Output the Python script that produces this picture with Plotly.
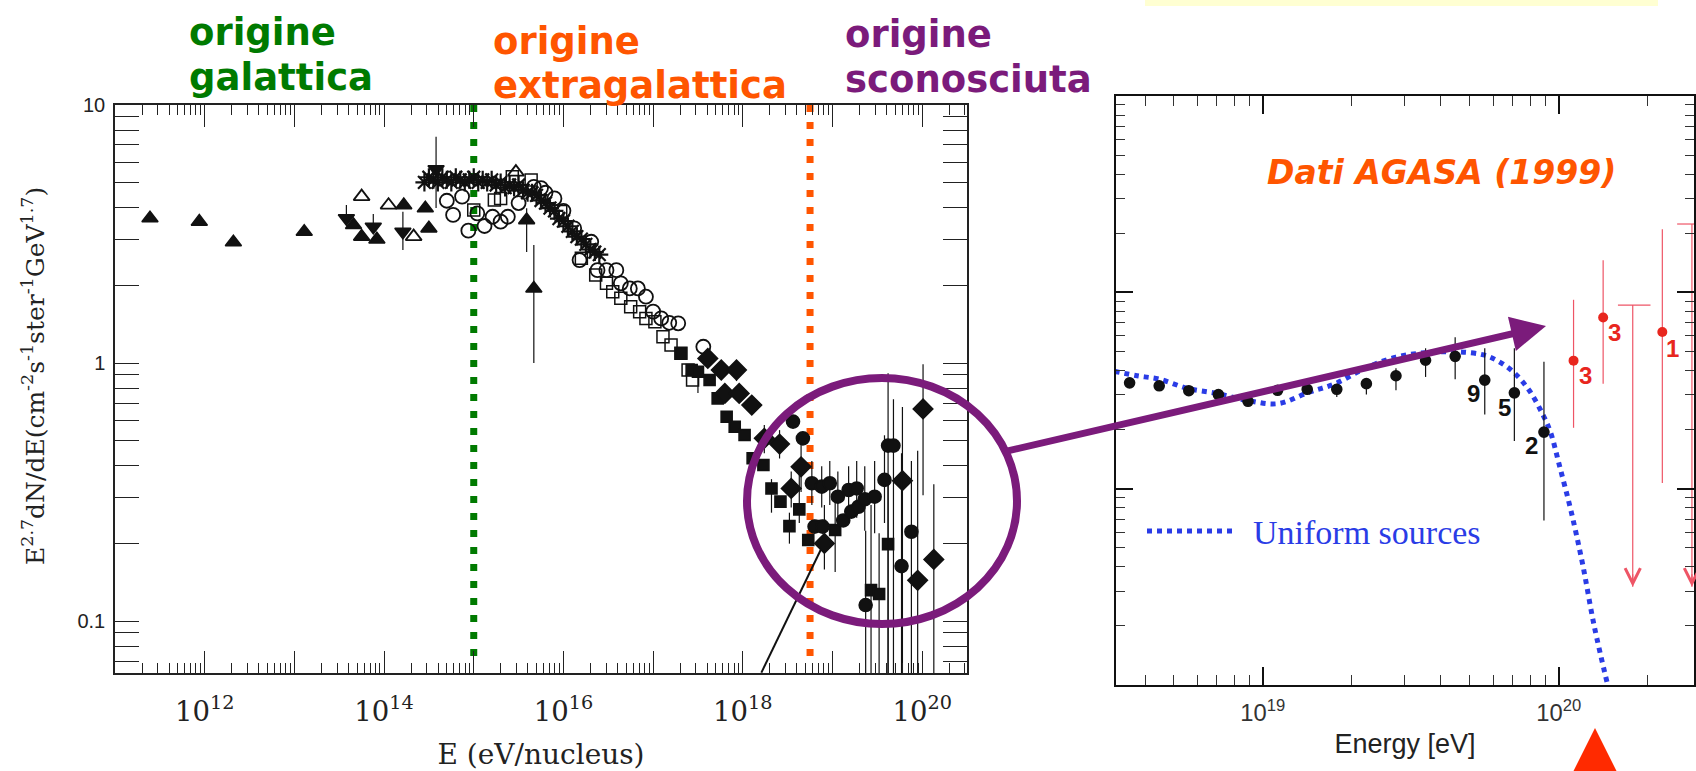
import plotly.graph_objects as go

W, H = 1696, 771

# ---------------- LEFT PANEL DATA (log10 E [eV], log10 E^2.7 dN/dE) ----------------
tri_up_lx = [11.39, 11.94, 12.32, 13.11, 13.66, 13.75, 13.92, 14.22, 14.46, 14.50, 15.59, 15.67]
tri_up_ly = [0.561, 0.548, 0.468, 0.509, 0.535, 0.490, 0.479, 0.612, 0.600, 0.522, 0.554, 0.289]
tri_up_lo = [None] * 10 + [0.43, 0.0]
tri_up_hi = [None] * 10 + [0.60, 0.457]

tri_open_lx = [13.75, 14.05, 14.33, 15.47]
tri_open_ly = [0.645, 0.612, 0.490, 0.740]

tri_dn_lx = [13.58, 13.88, 14.21, 14.58]
tri_dn_ly = [0.561, 0.528, 0.509, 0.751]
tri_dn_lo = [None, None, 0.438, 0.601]
tri_dn_hi = [0.612, 0.578, 0.586, 0.877]

star_lx = [14.45, 14.50, 14.55, 14.60, 14.65, 14.70, 14.75, 14.80, 14.85, 14.90, 14.95, 15.00,
           15.05, 15.10, 15.15, 15.20, 15.25, 15.30, 15.35, 15.40, 15.45, 15.50, 15.55, 15.60,
           15.65, 15.70, 15.75, 15.80, 15.85, 15.90, 15.95, 16.00, 16.05, 16.10, 16.15, 16.20,
           16.25, 16.30, 16.35, 16.40]
star_ly = [0.70, 0.72, 0.71, 0.70, 0.72, 0.71, 0.70, 0.72, 0.71, 0.70, 0.71, 0.72,
           0.70, 0.71, 0.70, 0.71, 0.69, 0.70, 0.68, 0.69, 0.68, 0.69, 0.67, 0.66,
           0.66, 0.65, 0.63, 0.62, 0.60, 0.59, 0.56, 0.55, 0.53, 0.51, 0.49, 0.48,
           0.46, 0.44, 0.43, 0.42]

circ_open_lx = [14.70, 14.77, 14.87, 14.94, 15.04, 15.12, 15.21, 15.30, 15.38, 15.50, 15.67, 15.75,
                15.80, 15.90, 16.00, 16.12, 16.18, 16.31, 16.38, 16.48, 16.59, 16.64, 16.74, 16.83,
                16.92, 17.00, 17.09, 17.18, 17.28, 17.56]
circ_open_ly = [0.629, 0.574, 0.645, 0.513, 0.580, 0.531, 0.567, 0.548, 0.567, 0.620, 0.683, 0.678,
                0.660, 0.638, 0.590, 0.522, 0.399, 0.470, 0.360, 0.360, 0.360, 0.309, 0.289, 0.289,
                0.257, 0.199, 0.173, 0.156, 0.154, 0.063]

sq_open_lx = [15.00, 15.23, 15.30, 15.43, 15.64, 15.97, 16.20, 16.36, 16.48, 16.55, 16.64, 16.75,
              16.85, 16.92, 17.02, 17.11, 17.20, 17.31, 17.39, 17.44]
sq_open_ly = [0.593, 0.632, 0.638, 0.722, 0.709, 0.587, 0.406, 0.341, 0.309, 0.276, 0.251, 0.218,
              0.199, 0.173, 0.160, 0.102, 0.070, 0.038, -0.027, -0.066]

sq_lx = [17.31, 17.43, 17.50, 17.63, 17.72, 17.82, 17.91, 18.02, 18.11, 18.23, 18.32, 18.42,
         18.52, 18.63, 18.73, 18.86, 19.03, 19.43, 19.52, 19.62]
sq_ly = [0.038, -0.027, -0.034, -0.066, -0.137, -0.208, -0.247, -0.279, -0.369, -0.395, -0.486, -0.537,
         -0.632, -0.567, -0.686, -0.632, -0.647, -0.880, -0.895, -0.702]
sq_lo = [None, None, -0.116, None, None, None, None, None, None, None, -0.58, None,
         -0.70, -0.62, None, None, -0.81, -1.35, -1.35, -1.35]
sq_hi = [None, None, None, None, None, None, None, None, None, None, -0.45, None,
         -0.58, -0.40, None, None, -0.53, -0.55, -0.66, -0.45]

dia_lx = [17.61, 17.76, 17.93, 17.80, 17.96, 18.10, 18.24, 18.41, 18.54, 18.65, 18.91, 19.78,
          19.95, 20.01, 20.13]
dia_ly = [0.018, -0.027, -0.027, -0.118, -0.118, -0.163, -0.292, -0.314, -0.486, -0.402, -0.699, -0.456,
          -0.842, -0.178, -0.761]
dia_lo = [None, None, -0.07, None, None, None, -0.35, -0.37, -0.56, -0.50, -0.80, -1.35,
          -1.35, -0.512, -1.35]
dia_hi = [None, None, 0.01, None, None, None, -0.24, -0.26, -0.42, -0.30, -0.55, -0.17,
          -0.34, -0.005, -0.47]

circ_lx = [18.56, 18.67, 18.77, 18.80, 18.88, 18.89, 18.97, 19.06, 19.12, 19.18, 19.21, 19.27,
           19.29, 19.36, 19.37, 19.47, 19.58, 19.62, 19.68, 19.77, 19.88]
circ_ly = [-0.227, -0.292, -0.466, -0.634, -0.479, -0.634, -0.466, -0.518, -0.610, -0.492, -0.576, -0.486,
           -0.557, -0.528, -0.938, -0.518, -0.453, -0.320, -0.320, -0.787, -0.654]
circ_lo = [None, None, -0.55, None, -0.56, None, -0.55, -0.62, None, -0.60, None, -0.60,
           None, -0.65, -1.35, -0.66, -0.62, -1.35, -1.35, -1.35, -1.35]
circ_hi = [None, None, -0.38, None, -0.40, None, -0.38, -0.42, None, -0.40, None, -0.38,
           None, -0.40, -0.65, -0.38, -0.28, -0.04, -0.14, -0.35, -0.38]

model_lx = [18.207, 18.895]
model_ly = [-1.20, -0.705]

galactic_lx = 15.0
extragal_lx = 18.75
vline_ly = [1.0, -1.159]

# ---------------- RIGHT PANEL DATA (AGASA 1999) ----------------
agasa_lx = [18.55, 18.65, 18.75, 18.85, 18.95, 19.05, 19.15, 19.25, 19.35, 19.45, 19.55, 19.65,
            19.75, 19.85, 19.95]
agasa_ly = [1.539, 1.524, 1.499, 1.479, 1.445, 1.501, 1.506, 1.506, 1.535, 1.575, 1.654, 1.674,
            1.553, 1.488, 1.288]
agasa_lo = [1.520, 1.505, 1.480, 1.460, 1.425, 1.480, 1.480, 1.467, 1.479, 1.501, 1.569, 1.557,
            1.378, 1.243, 0.838]
agasa_hi = [1.555, 1.540, 1.515, 1.495, 1.460, 1.520, 1.525, 1.535, 1.557, 1.613, 1.715, 1.771,
            1.715, 1.715, 1.647]

red_lx = [20.05, 20.15, 20.35]
red_ly = [1.652, 1.872, 1.798]
red_lo = [1.310, 1.535, 1.029]
red_hi = [1.962, 2.164, 2.321]

ul_lx = [20.25, 20.45]
ul_top = [1.935, 2.348]
ul_tip = [0.501, 0.501]
ul_bin_lo = [20.20, 20.40]
ul_bin_hi = [20.31, 20.50]

uni_lx = [18.498, 18.575, 18.652, 18.743, 18.846, 18.949, 19.051, 19.154, 19.245, 19.347, 19.450, 19.553,
          19.656, 19.746, 19.798, 19.849, 19.900, 19.946, 19.972, 20.004, 20.042, 20.081, 20.120, 20.165]
uni_ly = [1.598, 1.575, 1.557, 1.512, 1.485, 1.449, 1.433, 1.490, 1.535, 1.614, 1.670, 1.693,
          1.697, 1.681, 1.647, 1.591, 1.501, 1.378, 1.288, 1.108, 0.883, 0.613, 0.299, 0.002]

black_counts = ["9", "5", "2"]
black_count_lx = [19.712, 19.817, 19.907]
black_count_ly = [1.485, 1.411, 1.220]
red_counts = ["3", "3", "1"]
red_count_lx = [20.090, 20.190, 20.384]
red_count_ly = [1.575, 1.793, 1.715]


def p10(v):
    return [10 ** a for a in v]


def errs(ly, lo, hi):
    plus, minus = [], []
    for y, l, h in zip(ly, lo, hi):
        plus.append(10 ** h - 10 ** y if h is not None else 0)
        minus.append(10 ** y - 10 ** l if l is not None else 0)
    return plus, minus


fig = go.Figure()
BLK = "#111111"


def add_pts(lx, ly, symbol, size, lo=None, hi=None, lw=1.6, name="", xa="x", ya="y", color=BLK):
    kw = {}
    if lo is not None:
        plus, minus = errs(ly, lo, hi)
        kw["error_y"] = dict(type="data", symmetric=False, array=plus, arrayminus=minus,
                             color=color, thickness=1.2, width=0)
    fig.add_trace(go.Scatter(x=p10(lx), y=p10(ly), mode="markers", name=name, xaxis=xa, yaxis=ya,
                             marker=dict(symbol=symbol, size=size, color=color,
                                         line=dict(color=color, width=lw)),
                             showlegend=False, **kw))


# dotted vertical guide lines
fig.add_trace(go.Scatter(x=[10 ** galactic_lx] * 2, y=p10(vline_ly), mode="lines", showlegend=False,
                         line=dict(color="#007a00", width=7, dash="7px,10px")))
fig.add_trace(go.Scatter(x=[10 ** extragal_lx] * 2, y=p10(vline_ly), mode="lines", showlegend=False,
                         line=dict(color="#ff5500", width=7, dash="7px,10px")))
# model line
fig.add_trace(go.Scatter(x=p10(model_lx), y=p10(model_ly), mode="lines", showlegend=False,
                         line=dict(color=BLK, width=2)))

add_pts(tri_up_lx, tri_up_ly, "triangle-up", 14, tri_up_lo, tri_up_hi, name="filled triangles")
add_pts(tri_open_lx, tri_open_ly, "triangle-up-open", 14, lw=1.8, name="open triangles")
add_pts(tri_dn_lx, tri_dn_ly, "triangle-down", 14, tri_dn_lo, tri_dn_hi, name="down triangles")
add_pts(star_lx, star_ly, "asterisk-open", 15, lw=2.2, name="stars")
add_pts(circ_open_lx, circ_open_ly, "circle-open", 14, lw=1.8, name="open circles")
add_pts(sq_open_lx, sq_open_ly, "square-open", 12, lw=1.5, name="open squares")
add_pts(sq_lx, sq_ly, "square", 11, sq_lo, sq_hi, name="filled squares")
add_pts(dia_lx, dia_ly, "diamond", 15, dia_lo, dia_hi, name="diamonds")
add_pts(circ_lx, circ_ly, "circle", 13, circ_lo, circ_hi, name="filled circles")

# ---------------- right panel traces ----------------
BLUE = "#2a3ce6"
fig.add_trace(go.Scatter(x=p10(uni_lx), y=p10(uni_ly), mode="lines", name="Uniform sources",
                         xaxis="x2", yaxis="y2", showlegend=False,
                         line=dict(color=BLUE, width=5, dash="5px,5px", shape="spline")))
add_pts(agasa_lx, agasa_ly, "circle", 10, agasa_lo, agasa_hi, xa="x2", ya="y2", name="AGASA")
REDL = "#ee5566"
RED = "#e8261e"
for xl, top, tip, b0, b1 in zip(ul_lx, ul_top, ul_tip, ul_bin_lo, ul_bin_hi):
    fig.add_trace(go.Scatter(x=[10 ** xl, 10 ** xl], y=[10 ** top, 10 ** tip], mode="lines",
                             xaxis="x2", yaxis="y2", showlegend=False,
                             line=dict(color=REDL, width=1.2)))
    fig.add_trace(go.Scatter(x=[10 ** b0, 10 ** b1], y=[10 ** top, 10 ** top], mode="lines",
                             xaxis="x2", yaxis="y2", showlegend=False,
                             line=dict(color=REDL, width=1.2)))
plus, minus = errs(red_ly, red_lo, red_hi)
fig.add_trace(go.Scatter(x=p10(red_lx), y=p10(red_ly), mode="markers", xaxis="x2", yaxis="y2",
                         showlegend=False, marker=dict(color=RED, size=10),
                         error_y=dict(type="data", symmetric=False, array=plus, arrayminus=minus,
                                      color=REDL, thickness=1.2, width=0)))
# invisible trace so the label-only overlay axis is drawn
fig.add_trace(go.Scatter(x=[10 ** 11], y=[1], xaxis="x3", yaxis="y", mode="markers",
                         marker=dict(opacity=0), showlegend=False, hoverinfo="skip"))

annotations = []


def ann(text, X, Y, color, size, family, xanchor="left", angle=0):
    annotations.append(dict(text=text, x=X / W, y=1 - Y / H, xref="paper", yref="paper",
                            xanchor=xanchor, yanchor="middle", showarrow=False, textangle=angle,
                            font=dict(color=color, size=size, family=family)))


GREEN, ORANGE, PURPLE = "#007a00", "#ff5500", "#7b1b7b"
SANS_B = "DejaVu Sans"
SERIF = "DejaVu Serif"
ann("<b>origine</b>", 187, 33, GREEN, 37, SANS_B)
ann("<b>galattica</b>", 187, 78, GREEN, 37, SANS_B)
ann("<b>origine</b>", 491, 41, ORANGE, 37, SANS_B)
ann("<b>extragalattica</b>", 491, 85, ORANGE, 37, SANS_B)
ann("<b>origine</b>", 843, 35, PURPLE, 37, SANS_B)
ann("<b>sconosciuta</b>", 843, 80, PURPLE, 37, SANS_B)
ann("<b><i>Dati AGASA (1999)</i></b>", 1441, 173, ORANGE, 33, SANS_B, xanchor="center")
ann("Uniform sources", 1251, 532, BLUE, 34, "Liberation Serif")
# left-panel y-axis title
ann("E<sup>2.7</sup>dN/dE(cm<sup>-2</sup>s<sup>-1</sup>ster<sup>-1</sup>GeV<sup>1.7</sup>)",
    33, 376, "#222", 25, SERIF, xanchor="center", angle=-90)

for t, xl, yl in zip(black_counts, black_count_lx, black_count_ly):
    annotations.append(dict(text="<b>" + t + "</b>", x=xl, y=yl, xref="x2", yref="y2", showarrow=False,
                            font=dict(color=BLK, size=24, family="Liberation Sans")))
for t, xl, yl in zip(red_counts, red_count_lx, red_count_ly):
    annotations.append(dict(text="<b>" + t + "</b>", x=xl, y=yl, xref="x2", yref="y2", showarrow=False,
                            font=dict(color=RED, size=24, family="Liberation Sans")))
# upper-limit arrowheads
for xl, tip in zip(ul_lx, ul_tip):
    annotations.append(dict(text="", x=xl, y=tip, xref="x2", yref="y2", showarrow=True,
                            ax=0, ay=-14, arrowhead=5, arrowsize=2.5, arrowwidth=1.2, arrowcolor=REDL))
# purple arrow from circle to inset
annotations.append(dict(text="", x=1546 / W, y=1 - 326 / H, xref="paper", yref="paper", showarrow=True,
                        ax=-543, ay=126, arrowhead=2, arrowsize=1, arrowwidth=7, arrowcolor=PURPLE))
# red up arrow under the inset axis
annotations.append(dict(text="", x=1595 / W, y=1 - 728 / H, xref="paper", yref="paper", showarrow=True,
                        ax=0, ay=50, arrowhead=2, arrowsize=2, arrowwidth=5, arrowcolor="#ff2a00"))

shapes = [
    dict(type="rect", xref="paper", yref="paper", x0=1145 / W, x1=1658 / W, y0=1 - 6 / H, y1=1.0,
         fillcolor="#ffffd2", line=dict(width=0), layer="below"),
    dict(type="circle", xref="paper", yref="paper", x0=(882 - 135) / W, x1=(882 + 135) / W,
         y0=1 - (501 + 123) / H, y1=1 - (501 - 123) / H, line=dict(color=PURPLE, width=8)),
    dict(type="line", xref="paper", yref="paper", x0=1147 / W, x1=1237 / W, y0=1 - 531 / H, y1=1 - 531 / H,
         line=dict(color=BLUE, width=5, dash="5px,5px")),
]

axis_common = dict(showgrid=False, zeroline=False, showline=True, mirror="allticks", ticks="inside",
                   automargin=False)

fig.update_layout(
    width=W, height=H, margin=dict(l=0, r=0, t=0, b=0, pad=0, autoexpand=False),
    paper_bgcolor="white", plot_bgcolor="rgba(0,0,0,0)",
    xaxis=dict(type="log", range=[11, 20.5], domain=[115 / W, 967 / W], anchor="y",
               dtick=1, showticklabels=False,
               ticklen=22, tickwidth=1.3, tickcolor="#222", linewidth=1.5, linecolor="#222",
               minor=dict(dtick="D1", ticks="inside", ticklen=10, tickwidth=1, tickcolor="#222"),
               **axis_common),
    xaxis3=dict(type="log", range=[11, 20.5], overlaying="x", anchor="y", side="bottom",
                dtick=2, tick0=0, exponentformat="power", showline=False, ticks="",
                showgrid=False, zeroline=False, automargin=False,
                tickfont=dict(family=SERIF, size=22, color="#222"), ticklabelstandoff=19,
                title=dict(text="E (eV/nucleus)", font=dict(family=SERIF, size=28, color="#222"), standoff=21)),
    yaxis=dict(type="log", range=[-1.2013, 1.0], domain=[1 - 673 / H, 1 - 105 / H], anchor="x",
               dtick=1, ticklen=24, tickwidth=1.3, tickcolor="#222", linewidth=1.5, linecolor="#222",
               minor=dict(dtick="D1", ticks="inside", ticklen=12, tickwidth=1, tickcolor="#222"),
               tickfont=dict(family="Liberation Sans", size=20, color="#222"), ticklabelstandoff=4,
               **axis_common),
    xaxis2=dict(type="log", range=[18.504, 20.457], domain=[1116 / W, 1694 / W], anchor="y2",
                dtick=1, exponentformat="power",
                ticklen=18, tickwidth=2, tickcolor="#111", linewidth=2, linecolor="#111",
                minor=dict(dtick="D1", ticks="inside", ticklen=10, tickwidth=1.2, tickcolor="#333"),
                tickfont=dict(family="Liberation Sans", size=19, color="#333"), ticklabelstandoff=6,
                title=dict(text="Energy [eV]", font=dict(family="Liberation Sans", size=27, color="#222"),
                           standoff=10),
                **axis_common),
    yaxis2=dict(type="log", range=[0, 3], domain=[1 - 685 / H, 1 - 96 / H], anchor="x2",
                dtick=1, showticklabels=False,
                ticklen=17, tickwidth=2, tickcolor="#111", linewidth=2, linecolor="#111",
                minor=dict(dtick="D1", ticks="inside", ticklen=9, tickwidth=1.2, tickcolor="#333"),
                **axis_common),
    annotations=annotations, shapes=shapes, showlegend=False,
)

# the page's default 8px body margin would shift the whole figure; remove it
fig.write_html("out.html", config={"displayModeBar": False},
               post_script="document.body.style.margin='0px';")
